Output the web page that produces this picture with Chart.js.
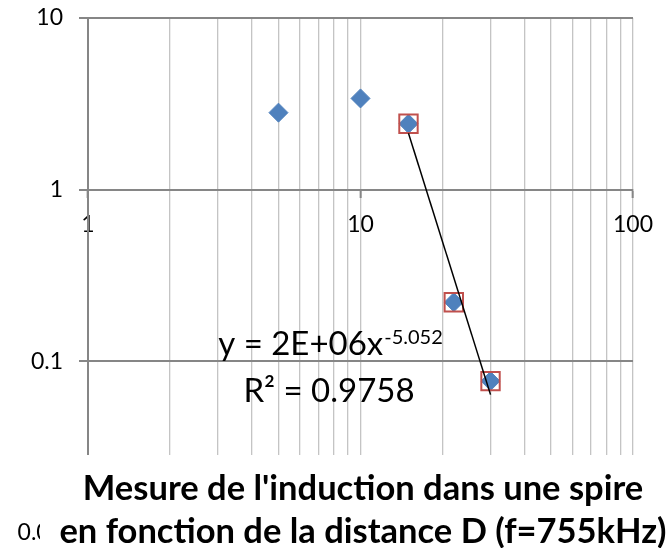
<!DOCTYPE html>
<html>
<head>
<meta charset="utf-8">
<script src="https://cdn.jsdelivr.net/npm/chart.js@4/dist/chart.umd.min.js"></script>
<style>
  html, body { margin: 0; padding: 0; background: #fff; }
  #wrap { width: 669px; height: 548px; }
</style>
</head>
<body>
<div id="wrap"><canvas id="canvasInduction"></canvas></div>
<script>
// distance D et induction mesurée
const distances = [5, 10, 15, 22, 30];
const induction = [2.81, 3.40, 2.42, 0.221, 0.0767];

// points retenus pour la courbe de tendance
const fitDistances = [15, 22, 30];
const fitInduction = [2.42, 0.221, 0.0767];

// courbe de tendance (puissance), extrémités
const trendX = [15, 30];
const trendY = [2.13, 0.064];

const xTicks = [1, 2, 3, 4, 5, 6, 7, 8, 9, 10, 20, 30, 40, 50, 60, 70, 80, 90, 100];
const xLabels = ['1', '10', '100'];
const yTicks = [0.01, 0.1, 1, 10];
const yLabels = ['0.01', '0.1', '1', '10'];

const equation = 'y = 2E+06x';
const exponent = '-5.052';
const rSquared = 'R² = 0.9758';
const titleLines = ["Mesure de l'induction dans une spire", 'en fonction de la distance D (f=755kHz)'];

const font = 'Lato';

function toPoints(xs, ys) {
    return xs.map((x, i) => ({x: x, y: ys[i]}));
}

// texte de l'équation + titre (avec fond blanc qui recouvre le bas du graphe)
const annotations = {
    id: 'annotations',
    afterDraw(chart) {
        const ctx = chart.ctx;
        ctx.save();
        ctx.fillStyle = '#000';
        ctx.textBaseline = 'alphabetic';

        ctx.font = '33px ' + font;
        let w1 = ctx.measureText(equation).width;
        ctx.font = '20px ' + font;
        let w2 = ctx.measureText(exponent).width;
        let x0 = 330 - (w1 + w2) / 2;
        ctx.font = '33px ' + font;
        ctx.textAlign = 'left';
        ctx.fillText(equation, x0, 355);
        ctx.font = '20px ' + font;
        ctx.fillText(exponent, x0 + w1 + 1, 344);
        ctx.font = '33px ' + font;
        ctx.textAlign = 'center';
        ctx.fillText(rSquared, 329, 402);

        ctx.fillStyle = '#fff';
        ctx.fillRect(40, 455, 629, 93);
        ctx.fillStyle = '#000';
        ctx.font = 'bold 34.5px ' + font;
        ctx.fillText(titleLines[0], 363, 500);
        ctx.fillText(titleLines[1], 363, 543);
        ctx.restore();
    }
};

new Chart(document.querySelector('#canvasInduction'), {
    type: 'scatter',
    data: {
        datasets: [{
            label: 'trend',
            data: toPoints(trendX, trendY),
            showLine: true,
            borderColor: '#000',
            borderWidth: 1.5,
            pointRadius: 0,
            order: 1
        }, {
            label: 'fit',
            data: toPoints(fitDistances, fitInduction),
            pointStyle: 'rect',
            pointRadius: 13,
            borderWidth: 2,
            borderColor: '#c0504d',
            backgroundColor: 'rgba(0,0,0,0)',
            order: 2
        }, {
            label: 'mesure',
            data: toPoints(distances, induction),
            pointStyle: 'rectRot',
            pointRadius: 9.5,
            borderWidth: 1,
            borderColor: '#4f81bd',
            backgroundColor: '#4f81bd',
            order: 3
        }]
    },
    options: {
        responsive: true,
        maintainAspectRatio: false,
        animation: false,
        layout: {padding: {top: 18, right: 36, bottom: 7, left: 0}},
        plugins: {
            legend: {display: false},
            tooltip: {enabled: false}
        },
        scales: {
            x: {
                type: 'logarithmic',
                min: 1,
                max: 100,
                position: {y: 1},
                afterBuildTicks: scale => {
                    scale.ticks = xTicks.map(v => ({value: v}));
                },
                afterFit: scale => {
                    scale.height = 0;
                },
                border: {color: '#868686', width: 2},
                grid: {
                    color: c => c.tick && c.tick.value === 1 ? '#868686' : '#c4c4c4',
                    lineWidth: 1.3,
                    tickLength: 7,
                    tickColor: c => xLabels.includes(String(c.tick.value)) ? '#868686' : 'rgba(0,0,0,0)',
                    tickWidth: 2
                },
                ticks: {
                    autoSkip: false,
                    maxRotation: 0,
                    padding: 14,
                    color: '#000',
                    font: {family: font, size: 23},
                    callback: v => xLabels.includes(String(v)) ? String(v) : ''
                }
            },
            y: {
                type: 'logarithmic',
                min: 0.01,
                max: 10,
                afterBuildTicks: scale => {
                    scale.ticks = yTicks.map(v => ({value: v}));
                },
                afterFit: scale => {
                    scale.width = 88;
                    scale.paddingTop = 0;
                    scale.paddingBottom = 0;
                },
                border: {color: '#868686', width: 2},
                grid: {
                    color: '#868686',
                    lineWidth: 2,
                    tickLength: 9
                },
                ticks: {
                    padding: 16,
                    color: '#000',
                    font: {family: font, size: 23},
                    callback: v => yLabels.includes(String(v)) ? String(v) : ''
                }
            }
        }
    },
    plugins: [annotations]
});
</script>
</body>
</html>
